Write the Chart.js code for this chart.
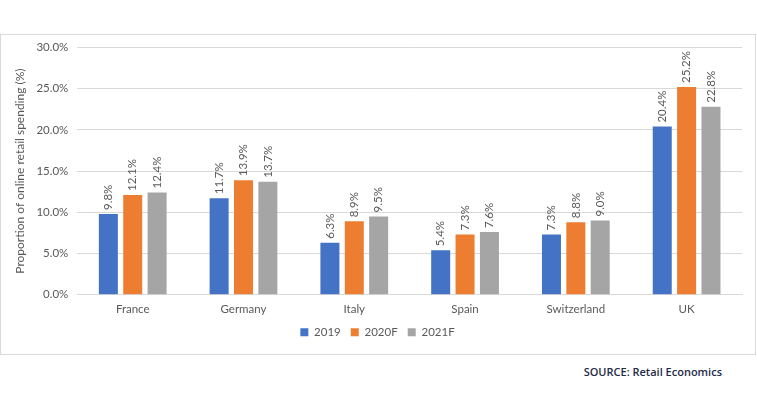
<!DOCTYPE html>
<html>
<head>
<meta charset="utf-8">
<script src="https://cdn.jsdelivr.net/npm/chart.js@4.4.0/dist/chart.umd.min.js"></script>
<style>
    body { margin: 0; background: #fff; width: 757px; height: 393px; position: relative; overflow: hidden; }
    #frame { position: absolute; left: 0; top: 34px; width: 754px; height: 319px; border: 1px solid #d9d9d9; }
    #source { position: absolute; right: 35px; top: 364px; font-family: "Open Sans", sans-serif; font-size: 11px; font-weight: 600; color: #1f2b47; }
</style>
</head>
<body>
<div id="frame"><canvas id="retailChart" width="754" height="319"></canvas></div>
<div id="source">SOURCE: Retail Economics</div>
<script>
const countries = ['France', 'Germany', 'Italy', 'Spain', 'Switzerland', 'UK'];
const share2019 = [9.8, 11.7, 6.3, 5.4, 7.3, 20.4];
const share2020F = [12.1, 13.9, 8.9, 7.3, 8.8, 25.2];
const share2021F = [12.4, 13.7, 9.5, 7.6, 9.0, 22.8];
const yTicks = [0, 5, 10, 15, 20, 25, 30];

const fontFamily = 'Lato, "Open Sans", sans-serif';
const textColor = '#595959';

// draws the rotated value labels above each bar
const valueLabels = {
    id: 'valueLabels',
    afterDatasetsDraw(chart) {
        const ctx = chart.ctx;
        chart.data.datasets.forEach(function(ds, i) {
            const meta = chart.getDatasetMeta(i);
            meta.data.forEach(function(bar, j) {
                ctx.save();
                ctx.translate(bar.x, bar.y - 4);
                ctx.rotate(-Math.PI / 2);
                ctx.font = '11.5px ' + fontFamily;
                ctx.fillStyle = textColor;
                ctx.textAlign = 'left';
                ctx.textBaseline = 'middle';
                ctx.fillText(ds.data[j].toFixed(1) + '%', 0, 0);
                ctx.restore();
            });
        });
    }
};

const retailChart = document.getElementById('retailChart');
new Chart(retailChart, {
    type: 'bar',
    data: {
        labels: countries,
        datasets: [
            { label: '2019', data: share2019, backgroundColor: '#4472c4' },
            { label: '2020F', data: share2020F, backgroundColor: '#ed7d31' },
            { label: '2021F', data: share2021F, backgroundColor: '#a5a5a5' }
        ]
    },
    options: {
        responsive: false,
        animation: false,
        categoryPercentage: 0.66,
        barPercentage: 0.78,
        layout: { padding: { top: 12, right: 13, left: 12, bottom: 6 } },
        scales: {
            y: {
                min: 0,
                max: 30,
                afterBuildTicks: function(axis) {
                    axis.ticks = yTicks.map(v => ({ value: v }));
                },
                border: { display: false },
                grid: { color: '#d9d9d9', drawTicks: false },
                ticks: {
                    padding: 9,
                    color: textColor,
                    font: { family: fontFamily, size: 11.5, lineHeight: 0.6 },
                    callback: v => v.toFixed(1) + '%'
                },
                title: {
                    display: true,
                    text: 'Proportion of online retail spending (%)',
                    color: textColor,
                    font: { family: fontFamily, size: 12 },
                    padding: { top: 0, bottom: 0 }
                }
            },
            x: {
                border: { color: '#d9d9d9' },
                grid: { display: false },
                ticks: {
                    padding: 0,
                    color: textColor,
                    font: { family: fontFamily, size: 11.5 }
                }
            }
        },
        plugins: {
            legend: {
                position: 'bottom',
                labels: {
                    boxWidth: 8,
                    boxHeight: 8,
                    padding: 10,
                    color: textColor,
                    font: { family: fontFamily, size: 11.5 }
                }
            },
            tooltip: { enabled: false }
        }
    },
    plugins: [valueLabels]
});
</script>
</body>
</html>
